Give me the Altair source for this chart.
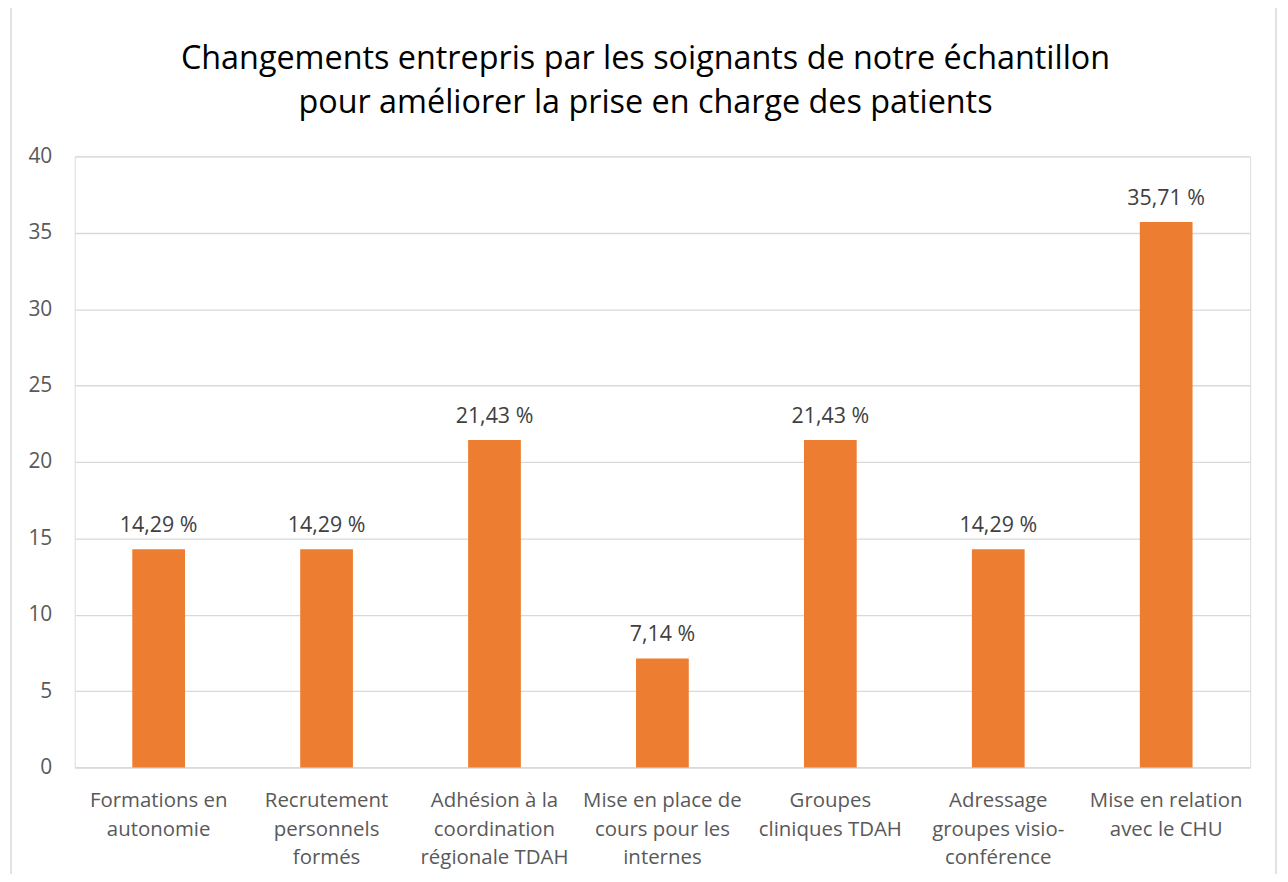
import altair as alt
import pandas as pd

categories = [
    "Formations en|autonomie",
    "Recrutement|personnels|formés",
    "Adhésion à la|coordination|régionale TDAH",
    "Mise en place de|cours pour les|internes",
    "Groupes|cliniques TDAH",
    "Adressage|groupes visio-|conférence",
    "Mise en relation|avec le CHU",
]
values = [14.29, 14.29, 21.43, 7.14, 21.43, 14.29, 35.71]
labels = ["14,29 %", "14,29 %", "21,43 %", "7,14 %", "21,43 %", "14,29 %", "35,71 %"]
title_lines = ["Changements entrepris par les soignants de notre échantillon",
               "pour améliorer la prise en charge des patients"]

df = pd.DataFrame({"cat": categories, "val": values, "lab": labels})
tdf = pd.DataFrame({"t": ["|".join(title_lines)]})

FONT = "Open Sans"
W, H = 1181, 614

x = alt.X("cat:N", sort=categories, title=None,
          scale=alt.Scale(paddingInner=0.686, paddingOuter=0.343),
          axis=alt.Axis(labelExpr="split(datum.label, '|')", labelAngle=0,
                        labelFont=FONT, labelFontSize=20.5, labelColor="#595959",
                        labelLineHeight=29, labelPadding=23, ticks=False,
                        domainColor="#d9d9d9", domainWidth=1.3, labelLimit=300))
y = alt.Y("val:Q", title=None,
          scale=alt.Scale(domain=[0, 40]),
          axis=alt.Axis(values=[0, 5, 10, 15, 20, 25, 30, 35, 40],
                        labelFont=FONT, labelFontSize=21, labelColor="#595959",
                        labelPadding=23, ticks=False, domain=False,
                        gridColor="#d9d9d9", gridWidth=1.3))

bars = alt.Chart(df).mark_bar(color="#ED7D31").encode(x=x, y=y)
text = alt.Chart(df).mark_text(font=FONT, fontSize=21.5, color="#404040",
                               baseline="alphabetic", dy=-17).encode(
    x=alt.X("cat:N", sort=categories), y="val:Q", text="lab:N")

title = alt.Chart(tdf).mark_text(font=FONT, fontSize=32.5, color="#000000",
                                 baseline="alphabetic", align="center",
                                 lineBreak="|", lineHeight=44).encode(
    x=alt.value(W / 2 - 17), y=alt.value(-88), text="t:N")

border = alt.Chart(tdf).mark_rect(fill=None, stroke="#d9d9d9", strokeWidth=1.5,
                                  clip=False).encode(
    x=alt.value(-64), x2=alt.value(W + 26), y=alt.value(-160), y2=alt.value(H + 140))

chart = alt.layer(border, bars, text, title).properties(
    width=W, height=H,
    autosize=alt.AutoSizeParams(type="none"),
    padding={"left": 67, "top": 147, "right": 30, "bottom": 105},
).configure_view(stroke=None).configure(background="white")

chart.save("out.html", embed_options={"renderer": "svg", "actions": False})
